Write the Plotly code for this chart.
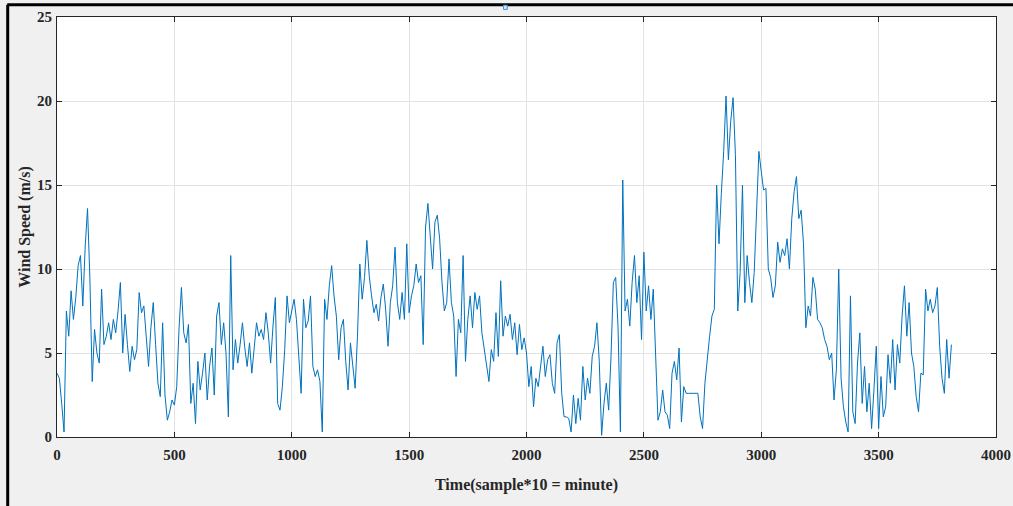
import plotly.graph_objects as go

# Sample step between read values (samples of 10 minutes)
step = 10

wind_speed = [
    # 0 - 470
    3.8, 3.5, 2.0, 0.3, 7.5, 6.0, 8.7, 7.0, 8.3, 10.2,
    10.8, 7.8, 11.3, 13.6, 9.5, 3.3, 6.4, 5.0, 4.4, 8.8,
    5.5, 6.0, 6.8, 5.8, 7.0, 6.2, 7.5, 9.2, 5.0, 7.3,
    5.5, 3.9, 5.4, 4.6, 5.2, 8.6, 7.4, 7.8, 6.0, 4.2,
    6.5, 8.0, 5.5, 3.2, 2.4, 6.8, 2.5, 1.0,
    # 480 - 940
    1.5, 2.2, 1.9, 3.0, 6.5, 8.9, 6.2, 5.6, 6.7, 2.0,
    3.2, 0.8, 4.5, 2.8, 3.8, 5.0, 2.2, 4.2, 5.3, 2.5,
    7.2, 8.0, 5.5, 6.8, 5.0, 1.2, 10.8, 4.0, 5.8, 4.4,
    5.5, 6.8, 5.3, 4.2, 5.6, 3.8, 5.3, 6.8, 6.0, 6.4,
    5.8, 7.4, 6.2, 4.4, 6.6, 8.3, 2.0,
    # 940 - 1430
    1.6, 3.0, 5.2, 8.4, 6.8, 7.5, 8.2, 7.0, 5.0, 2.6,
    8.2, 6.5, 6.9, 8.4, 4.2, 3.6, 4.0, 3.3, 0.3, 8.2,
    7.0, 9.0, 10.2, 8.4, 7.2, 4.6, 6.5, 7.0, 4.5, 2.8,
    5.6, 4.2, 2.9, 6.0, 10.3, 8.2, 9.5, 11.7, 9.6, 8.4,
    7.4, 7.9, 6.9, 8.3, 9.1, 7.6, 5.4, 8.0, 9.0,
    # 1430 - 1930
    11.3, 8.0, 7.0, 8.6, 7.0, 11.5, 7.4, 8.4, 9.0, 10.3,
    9.2, 9.6, 5.5, 12.5, 13.9, 11.6, 10.0, 12.8, 13.2, 11.8,
    9.2, 7.5, 8.0, 10.6, 8.0, 7.2, 3.6, 7.0, 6.2, 10.8,
    4.5, 7.0, 8.4, 6.5, 8.6, 7.6, 8.4, 6.2, 5.2, 4.0,
    3.3, 5.2, 4.5, 7.4, 4.8, 9.3, 6.0, 7.2, 6.6,
    # 1920 - 2410
    7.3, 5.8, 6.8, 4.9, 6.7, 5.2, 5.9, 5.0, 3.0, 4.2,
    1.8, 3.5, 3.0, 4.2, 5.4, 3.6, 4.6, 4.9, 3.2, 2.6,
    5.6, 6.1, 2.6, 1.2, 1.2, 1.1, 0.3, 2.5, 0.8, 2.3,
    1.0, 4.2, 2.2, 3.5, 2.6, 4.8, 5.4, 6.8, 4.5, 0.1,
    2.0, 3.2, 1.6, 4.8, 9.2, 9.5, 6.5, 0.3, 15.3,
    # 2420 - 2910
    7.5, 8.2, 6.6, 9.2, 10.8, 8.0, 9.6, 5.8, 11.0, 7.5,
    9.0, 7.0, 8.8, 4.6, 1.0, 1.5, 2.8, 1.5, 1.3, 0.5,
    3.8, 4.5, 3.4, 5.3, 0.9, 3.0, 2.6, 2.6, 2.6, 2.6,
    2.6, 2.6, 1.2, 0.5, 3.2, 4.8, 6.0, 7.2, 7.6, 15.0,
    11.5, 14.5, 17.0, 20.3, 16.5, 18.8, 20.2, 16.8, 7.5, 9.8,
    # 2920 - 3410
    15.0, 8.0, 10.8, 9.2, 8.0, 9.8, 13.0, 17.0, 15.8, 14.7,
    14.8, 10.0, 9.5, 8.3, 9.0, 11.6, 10.4, 11.2, 10.8, 11.8,
    10.0, 13.0, 14.6, 15.5, 13.0, 13.5, 11.5, 6.5, 7.8, 7.2,
    9.5, 8.8, 7.0, 6.8, 6.5, 5.8, 5.4, 4.6, 5.0, 2.2,
    4.0, 10.0, 3.5, 1.8, 0.9, 0.3, 8.4, 1.5, 0.8, 4.4,
    # 3420 - 3810
    6.2, 2.0, 4.2, 1.5, 3.2, 0.5, 2.8, 5.4, 0.5, 3.6,
    1.2, 1.8, 4.9, 3.2, 5.8, 2.8, 5.5, 4.4, 7.2, 9.0,
    6.0, 8.0, 5.0, 4.2, 2.4, 1.5, 3.8, 3.7, 8.8, 7.5,
    8.2, 7.4, 7.8, 8.9, 5.4, 3.5, 2.6, 5.8, 3.5, 5.5,
]

sample_index = [i * step for i in range(len(wind_speed))]

x_ticks = [0, 500, 1000, 1500, 2000, 2500, 3000, 3500, 4000]
y_ticks = [0, 5, 10, 15, 20, 25]

x_title = "Time(sample*10 = minute)"
y_title = "Wind Speed (m/s)"

line_color = "#0072BD"
axis_color = "#262626"
grid_color = "#e3e3e3"
font_family = "Liberation Serif"

fig = go.Figure()
fig.add_trace(go.Scatter(
    x=sample_index, y=wind_speed, mode="lines",
    line=dict(color=line_color, width=1),
    showlegend=False, hoverinfo="x+y",
))

axis_common = dict(
    showline=True, linecolor=axis_color, linewidth=1, mirror="ticks",
    ticks="inside", ticklen=5, tickcolor=axis_color,
    showgrid=True, gridcolor=grid_color, gridwidth=1,
    zeroline=False, automargin=False,
    tickfont=dict(family=font_family, size=15, color=axis_color, weight="bold"),
)

fig.update_xaxes(
    range=[0, 4000], tickvals=x_ticks, ticklabelstandoff=4,
    title=dict(text=x_title, standoff=16,
               font=dict(family=font_family, size=16, color=axis_color, weight="bold")),
    **axis_common,
)
fig.update_yaxes(
    range=[0, 25], tickvals=y_ticks, ticklabelstandoff=1,
    title=dict(text=y_title, standoff=2,
               font=dict(family=font_family, size=16, color=axis_color, weight="bold")),
    **axis_common,
)

fig.update_layout(
    width=1013, height=506,
    margin=dict(l=57, r=17, t=17, b=69),
    paper_bgcolor="#f0f0f0",
    plot_bgcolor="#ffffff",
    shapes=[
        # screenshot frame lines (top and left)
        dict(type="line", xref="paper", yref="paper",
             x0=-0.053, x1=1.02, y0=1.029, y1=1.029,
             line=dict(color="#000000", width=3)),
        dict(type="line", xref="paper", yref="paper",
             x0=-0.0525, x1=-0.0525, y0=-0.17, y1=1.029,
             line=dict(color="#000000", width=3)),
        # small marker above plot
        dict(type="rect", xref="paper", yref="paper",
             x0=0.4755, x1=0.4795, y0=1.018, y1=1.028,
             line=dict(color="#4a90d9", width=1), fillcolor="#cfe2f7"),
    ],
)

fig.write_html(
    "out.html",
    config={"displayModeBar": False},
    post_script="document.body.style.margin='0';document.body.style.overflow='hidden';",
)
